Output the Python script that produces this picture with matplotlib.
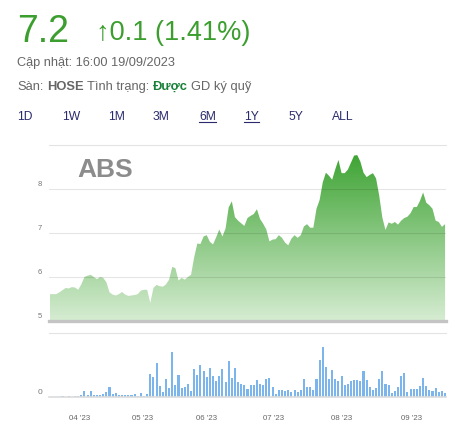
import numpy as np
import pandas as pd
import matplotlib
matplotlib.use("Agg")
import matplotlib.pyplot as plt
from matplotlib.colors import LinearSegmentedColormap
from matplotlib.patches import Polygon
from matplotlib.lines import Line2D

plt.rcParams['font.family'] = ['Liberation Sans', 'DejaVu Sans']

# trading days (HOSE), 6M window
holidays = ['2023-05-01', '2023-05-02', '2023-05-03', '2023-09-01', '2023-09-04']
days = pd.bdate_range('2023-03-20', '2023-09-19')
days = days[~days.isin(pd.to_datetime(holidays))]

price = [5.61, 5.61, 5.61, 5.65, 5.70, 5.75, 5.74, 5.77, 5.76, 5.71,
         5.83, 6.00, 6.03, 6.05, 6.00, 5.95, 6.00, 5.98, 5.88, 5.65,
         5.60, 5.58, 5.61, 5.66, 5.60, 5.57, 5.58, 5.59, 5.61, 5.69,
         5.71, 5.71, 5.41, 5.75, 5.82, 5.79, 5.78, 5.83, 5.94, 6.23,
         6.20, 5.92, 5.98, 5.94, 6.00, 6.05, 6.45, 6.76, 6.75, 6.92,
         6.95, 6.80, 6.74, 6.90, 7.08, 6.92, 7.10, 7.58, 7.72, 7.36,
         7.28, 7.22, 7.16, 7.34, 7.39, 7.43, 7.54, 7.32, 7.21, 7.08,
         6.81, 6.85, 6.86, 6.95, 6.89, 6.78, 6.72, 6.87, 6.95, 6.89,
         6.95, 7.15, 7.20, 7.12, 7.12, 7.55, 7.75, 8.15, 8.37, 8.30,
         8.21, 8.45, 8.66, 8.36, 8.36, 8.44, 8.60, 8.76, 8.77, 8.62,
         8.37, 8.27, 8.32, 8.36, 8.24, 7.85, 7.35, 7.07, 7.24, 7.21,
         7.25, 7.19, 7.28, 7.34, 7.37, 7.45, 7.59, 7.59, 7.73, 7.92,
         7.69, 7.63, 7.55, 7.28, 7.25, 7.14, 7.20]

volume = [0, 0, 0, 0, 3, 0, 3, 0, 3, 3,
          6, 18, 6, 18, 6, 6, 6, 9, 15, 30,
          9, 12, 6, 6, 6, 6, 6, 9, 3, 12,
          3, 9, 69, 60, 102, 33, 15, 54, 27, 135,
          36, 66, 28, 30, 39, 18, 84, 66, 96, 78,
          60, 87, 63, 48, 63, 84, 45, 108, 57, 87,
          45, 39, 36, 24, 36, 36, 51, 39, 36, 54,
          57, 30, 9, 21, 21, 18, 21, 15, 21, 15,
          21, 54, 30, 30, 21, 54, 111, 150, 90, 54,
          81, 54, 48, 63, 36, 39, 48, 51, 51, 48,
          78, 51, 30, 21, 27, 54, 78, 39, 36, 12,
          18, 30, 63, 72, 15, 24, 24, 24, 33, 57,
          33, 21, 18, 27, 15, 18, 12]

month_starts = ['2023-04-01', '2023-05-01', '2023-06-01', '2023-07-01', '2023-08-01', '2023-09-01']
month_labels = ["04 '23", "05 '23", "06 '23", "07 '23", "08 '23", "09 '23"]
price_ticks = [5, 6, 7, 8]
ranges = ['1D', '1W', '1M', '3M', '6M', '1Y', '5Y', 'ALL']
range_x = [17, 62, 108, 153, 199, 244, 288, 332]

W, H = 465, 429
fig = plt.figure(figsize=(W / 100, H / 100), dpi=100)


def box(l, t, r, b):
    return [l / W, 1 - b / H, (r - l) / W, (b - t) / H]


x = np.arange(len(days))
xlim = (-0.3, x[-1] + 0.3)

# ---- price panel
ax = fig.add_axes(box(49, 145, 446, 321))
cmap = LinearSegmentedColormap.from_list('g', ['#d6ecd2', '#36a02b'])
grad = np.linspace(0, 1, 256).reshape(-1, 1)
im = ax.imshow(grad, cmap=cmap, origin='lower', extent=[x[0], x[-1], 5, 9],
               aspect='auto', zorder=1)
verts = np.vstack([[x[0], 5], np.column_stack([x, price]), [x[-1], 5]])
poly = Polygon(verts, closed=True, facecolor='none', edgecolor='none')
ax.add_patch(poly)
im.set_clip_path(poly)
ax.set_xlim(xlim)
ax.set_ylim(5, 9)
for v in [6, 7, 8]:
    ax.axhline(v, color='k', alpha=0.1, lw=0.8, zorder=3)
ax.axhline(9, color='#e3e3e3', lw=0.8, clip_on=False)
ax.axhline(5, color='#c4c4c4', lw=2.4, clip_on=False, zorder=4)
for v in price_ticks:
    ax.annotate(str(v), (0, v), xycoords=('axes fraction', 'data'),
                xytext=(-5, 3.3), textcoords='offset points',
                ha='right', va='center', fontsize=5.5, color='#777777')
ax.axis('off')

fig.text(77 / W, 1 - 177 / H, 'ABS', fontsize=19, fontweight='bold',
         color='#8c8c8c', va='baseline')

# ---- volume panel
axv = fig.add_axes(box(49, 333, 446, 397))
axv.bar(x, volume, width=0.66, color='#7cb5ec', linewidth=0, antialiased=False)
axv.set_xlim(xlim)
axv.set_ylim(0, 192)
axv.axhline(0, color='#dcdcdc', lw=1.2, clip_on=False)
axv.axhline(192, color='#e3e3e3', lw=0.8, clip_on=False)
for s in axv.spines.values():
    s.set_visible(False)
axv.set_yticks([])
ords = np.array([d.toordinal() for d in days])
tick_pos = np.interp([pd.Timestamp(m).toordinal() for m in month_starts], ords, x)
axv.set_xticks(tick_pos)
axv.set_xticklabels(month_labels, fontsize=5.7, color='#666666')
axv.tick_params(axis='x', length=0, pad=13)
axv.annotate('0', (0, 0), xycoords=('axes fraction', 'data'),
             xytext=(-5, 3.6), textcoords='offset points',
             ha='right', va='center', fontsize=6, color='#777777')

# ---- header
green = '#3b9e2e'
fig.text(17 / W, 1 - 42 / H, '7.2', fontsize=27, color=green, va='baseline')
fig.text(96 / W, 1 - 39.5 / H, '\u21910.1 (1.41%)', fontsize=19.5, color=green,
         va='baseline')
fig.text(17 / W, 1 - 66 / H, 'Cập nhật: 16:00 19/09/2023', fontsize=9.2,
         color='#666666', va='baseline')

r = fig.canvas.get_renderer()
pieces = [('Sàn:', {}), ('HOSE', {'fontweight': 'bold'}), ('Tình trạng:', {}),
          ('Được', {'fontweight': 'bold', 'color': '#188038'}), ('GD ký quỹ', {})]
px = 17
for s, kw in pieces:
    opts = {'fontsize': 9.3, 'color': '#666666'}
    opts.update(kw)
    t = fig.text(px / W, 1 - 90 / H, s, va='baseline', **opts)
    px = t.get_window_extent(r).x1 + 3.4

for lab, lx in zip(ranges, range_x):
    t = fig.text(lx / W, 1 - 120 / H, lab, fontsize=8.7, color='#2a2a6c',
                 va='baseline')
    if lab in ('6M', '1Y'):
        bb = t.get_window_extent(r)
        yl = 1 - 122 / H
        fig.add_artist(Line2D([bb.x0 / W, bb.x1 / W], [yl, yl], lw=0.8,
                              color='#2a2a6c'))

fig.savefig('out.png', dpi=100)
